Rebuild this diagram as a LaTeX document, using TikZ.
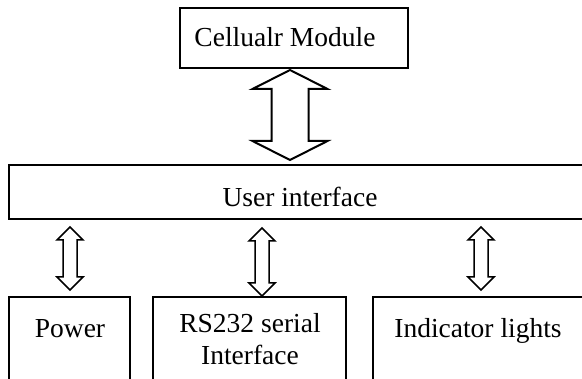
\documentclass[tikz,border=0pt]{standalone}
\usepackage{fontspec}
\setmainfont{Liberation Serif}
\newcommand\udarrow[7]{\draw[#1] (#2,#3) -- ({#2+#6},{#3+#7}) -- ({#2+#5},{#3+#7}) -- ({#2+#5},{#4-#7}) -- ({#2+#6},{#4-#7}) -- (#2,#4) -- ({#2-#6},{#4-#7}) -- ({#2-#5},{#4-#7}) -- ({#2-#5},{#3+#7}) -- ({#2-#6},{#3+#7}) -- cycle;}
\begin{document}
\begin{tikzpicture}[x=1pt,y=-1pt,
  box/.style={draw, line width=2pt, inner sep=0pt},
  txt/.style={inner sep=0pt, font=\fontsize{27.5}{32}\selectfont},
  arr/.style={draw, line width=1.5pt, line join=miter, fill=white},
  bigarr/.style={draw, line width=2pt, line join=miter, fill=white}]
\useasboundingbox (0,0) rectangle (582,379);
\clip (0,0) rectangle (582,379);
% boxes
\node[box, minimum width=228pt, minimum height=60pt] (cell) at (294,38) {};
\node[box, minimum width=586pt, minimum height=54pt] (ui) at (302,192) {};
\node[box, minimum width=121pt, minimum height=123pt] (power) at (69.5,358.5) {};
\node[box, minimum width=193pt, minimum height=123pt] (rs) at (249.5,358.5) {};
\node[box, minimum width=217pt, minimum height=123pt] (ind) at (481.5,358.5) {};
% texts
\node[txt, anchor=base] (tcell) at (285,47) {Cellualr Module};
\node[txt, anchor=base] (tui) at (300,207) {User interface};
\node[txt, anchor=base] (tpower) at (70,338) {Power};
\node[txt, anchor=base] (trs1) at (250,333) {RS232 serial};
\node[txt, anchor=base] (trs2) at (250,365) {Interface};
\node[txt, anchor=base] (tind) at (478,338) {Indicator lights};
% arrows
\udarrow{bigarr}{290}{70}{160}{18.5}{37.5}{19}
\udarrow{arr}{70}{227}{290}{7}{13}{13}
\udarrow{arr}{262}{228}{296}{7}{13}{13}
\udarrow{arr}{481}{227}{290}{7}{13}{13}
\end{tikzpicture}
\end{document}
